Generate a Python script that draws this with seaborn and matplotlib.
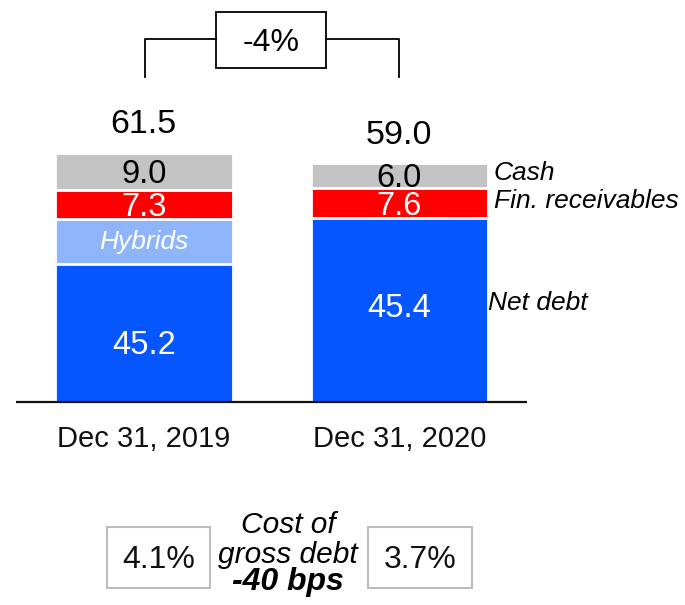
import pandas as pd
import matplotlib.pyplot as plt
import seaborn as sns
from matplotlib.patches import Rectangle

# Gross debt bridge (EUR bn)
dates = ["Dec 31, 2019", "Dec 31, 2020"]
net_debt_ex_hybrids = [34.2, 45.4]
hybrids = [11.0, 0.0]
fin_receivables = [7.3, 7.6]
cash = [9.0, 6.0]
net_debt_labels = ["45.2", "45.4"]
totals = [61.5, 59.0]
change_label = "-4%"
cost_of_debt = ["4.1%", "3.7%"]
cost_change = "-40 bps"

plt.rcParams["font.family"] = ["Liberation Sans", "DejaVu Sans"]

df = pd.DataFrame({
    "date": dates,
    "net": net_debt_ex_hybrids,
    "hybrids": hybrids,
    "fin_rec": fin_receivables,
    "cash": cash,
})
df["top_net"] = df["net"]
df["top_hyb"] = df["top_net"] + df["hybrids"]
df["top_fin"] = df["top_hyb"] + df["fin_rec"]
df["top_cash"] = df["top_fin"] + df["cash"]

colors = {
    "top_cash": "#C3C3C3",
    "top_fin": "#FF0000",
    "top_hyb": "#8EB4FA",
    "top_net": "#0656FF",
}

fig = plt.figure(figsize=(6.85, 6.05), dpi=100)
ax = fig.add_axes([0, 0, 1, 1])

# stacked bars drawn as overlapping cumulative bars
for col in ["top_cash", "top_fin", "top_hyb", "top_net"]:
    sns.barplot(data=df, x="date", y=col, color=colors[col], saturation=1,
                width=0.695, edgecolor="white", linewidth=2, errorbar=None,
                ax=ax, zorder=2)

ax.set_xlim(-0.5628, 2.1182)
ax.set_ylim(-50.05, 99.33)
ax.axis("off")

n = len(dates)
ax.hlines(0, -0.5, n - 0.5, color="#111111", lw=1.6, zorder=3)

big = 23.5
for i in range(n):
    # segment labels
    net_y = [14.8, 24.0][i]
    ax.text(i, net_y, net_debt_labels[i], ha="center", va="center_baseline",
            color="white", fontsize=big, zorder=4)
    if hybrids[i] > 0:
        ax.text(i, df.loc[i, "top_net"] + hybrids[i] / 2, "Hybrids", ha="center",
                va="center", color="white", fontsize=19, style="italic", zorder=4)
    ax.text(i, df.loc[i, "top_hyb"] + fin_receivables[i] / 2, f"{fin_receivables[i]:.1f}",
            ha="center", va="center_baseline", color="white", fontsize=big, zorder=4)
    ax.text(i, df.loc[i, "top_fin"] + cash[i] / 2, f"{cash[i]:.1f}",
            ha="center", va="center_baseline", color="black", fontsize=big, zorder=4)
    # totals
    ax.text(i, totals[i] + 7.85, f"{totals[i]:.1f}", ha="center",
            va="center_baseline", color="black", fontsize=24.5)
    # category labels
    ax.text(i, -8.3, dates[i], ha="center", va="center_baseline",
            color="#111111", fontsize=21)

# legend-style labels to the right of the last bar
lx = n - 1 + 0.37
ax.text(lx, 56.7, "Cash", ha="left", va="center", fontsize=19, style="italic")
ax.text(lx, 49.75, "Fin. receivables", ha="left", va="center", fontsize=19, style="italic")
ax.text(lx - 0.023, 24.5, "Net debt", ha="left", va="center", fontsize=19, style="italic")

# change bracket
ax.plot([0.005, 0.005, 0.282], [80.3, 89.7, 89.7], color="black", lw=1.3)
ax.plot([0.712, 0.997, 0.997], [89.7, 89.7, 80.3], color="black", lw=1.3)
ax.add_patch(Rectangle((0.282, 82.6), 0.43, 13.8, fill=False,
                       edgecolor="black", lw=1.3))
ax.text(0.5, 89.6, change_label, ha="center", va="center_baseline", fontsize=23)

# cost of gross debt boxes
for cx, lab in zip([0.057, 1.081], cost_of_debt):
    ax.add_patch(Rectangle((cx - 0.202, -45.9), 0.404, 15.2, fill=False,
                           edgecolor="#BDBDBD", lw=1.5))
    ax.text(cx, -40.9, lab, ha="center", va="baseline", fontsize=23, color="#111111")

ax.text(0.564, -32.35, "Cost of", ha="center", va="baseline", fontsize=21.5, style="italic")
ax.text(0.564, -39.75, "gross debt", ha="center", va="baseline", fontsize=21.5, style="italic")
ax.text(0.564, -46.35, cost_change, ha="center", va="baseline", fontsize=23,
        style="italic", weight="bold")

fig.savefig("out.png", dpi=100)
